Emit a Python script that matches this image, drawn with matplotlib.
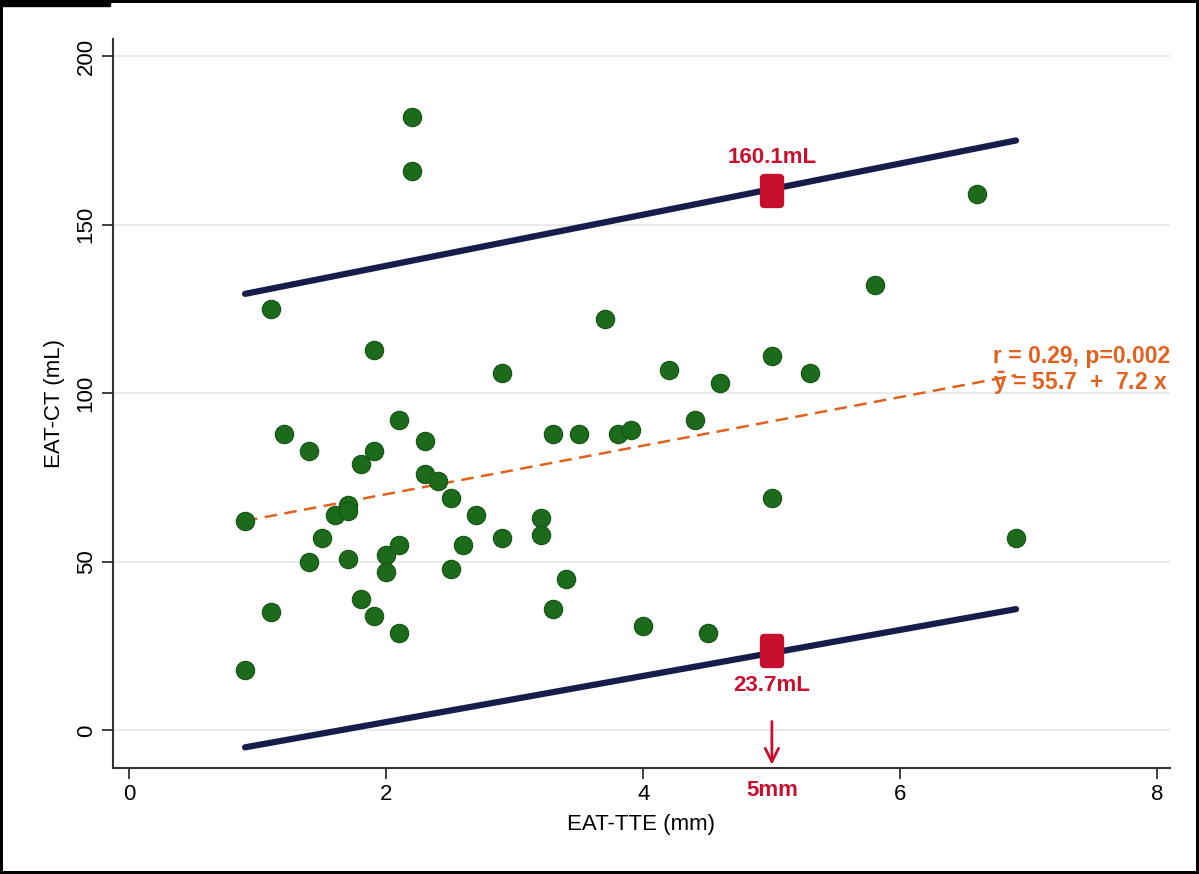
import numpy as np
import matplotlib.pyplot as plt
from matplotlib.patches import Rectangle
from matplotlib.markers import MarkerStyle
from matplotlib.path import Path

# data
tte = [0.9, 0.9, 1.1, 1.1, 1.2, 1.4, 1.4, 1.5, 1.6, 1.7, 1.7, 1.7, 1.8, 1.8,
       1.9, 1.9, 1.9, 2.0, 2.0, 2.1, 2.1, 2.1, 2.2, 2.2, 2.3, 2.3, 2.4, 2.5,
       2.5, 2.6, 2.7, 2.9, 2.9, 3.2, 3.2, 3.3, 3.3, 3.4, 3.5, 3.7, 3.8, 3.9,
       4.0, 4.2, 4.4, 4.5, 4.6, 5.0, 5.0, 5.3, 5.8, 6.6, 6.9]
ct = [18, 62, 35, 125, 88, 83, 50, 57, 64, 67, 65, 51, 39, 79,
      83, 113, 34, 52, 47, 92, 55, 29, 182, 166, 86, 76, 74, 69,
      48, 55, 64, 106, 57, 63, 58, 88, 36, 45, 88, 122, 88, 89,
      31, 107, 92, 29, 103, 111, 69, 106, 132, 159, 57]

fit_x = [0.9, 6.9]
intercept, slope = 55.7, 7.2
upper_y = [129.5, 175.0]
lower_y = [-5.0, 36.0]
cut_x = 5
cut_hi, cut_lo = 160.1, 23.7

plt.rcParams['font.family'] = ['Liberation Sans', 'DejaVu Sans']
plt.rcParams['mathtext.fontset'] = 'custom'
plt.rcParams['mathtext.bf'] = 'Liberation Sans:bold'
plt.rcParams['mathtext.rm'] = 'Liberation Sans'

navy = '#161d4a'
green = '#1b6b1b'
red = '#c8102e'
orange = '#e0621e'

fig = plt.figure(figsize=(11.99, 8.74), dpi=100)
fig.patch.set_edgecolor('black')
fig.patch.set_linewidth(3)
fig.patches.append(Rectangle((0, 1 - 6 / 874), 110 / 1199, 6 / 874,
                             transform=fig.transFigure, color='black', zorder=5))
ax = fig.add_axes([0.094, 0.121, 0.882, 0.834])

ax.plot(fit_x, upper_y, color=navy, lw=4.5, solid_capstyle='round', zorder=2)
ax.plot(fit_x, lower_y, color=navy, lw=4.5, solid_capstyle='round', zorder=2)

fx = np.array(fit_x)
ax.plot(fx, intercept + slope * fx, color=orange, lw=1.8, ls=(0, (5, 3)), zorder=3)

ax.scatter(tte, ct, s=175, color=green, edgecolor='#145214', lw=0.8, zorder=4)

box = Path([(-0.6, -1), (0.6, -1), (0.6, 1), (-0.6, 1), (-0.6, -1)],
           [Path.MOVETO, Path.LINETO, Path.LINETO, Path.LINETO, Path.CLOSEPOLY])
ax.plot([cut_x, cut_x], [cut_hi, cut_lo], ls='none',
        marker=MarkerStyle(box, joinstyle='round'), ms=19,
        color=red, mec=red, mew=6, zorder=5)

ax.text(cut_x, 170, f'{cut_hi}mL', color=red, fontsize=16,
        fontweight='bold', ha='center', va='center')
ax.text(cut_x, 13.3, f'{cut_lo}mL', color=red, fontsize=16,
        fontweight='bold', ha='center', va='center')
ax.annotate('', xy=(cut_x, -11), xytext=(cut_x, 3.5),
            arrowprops=dict(arrowstyle='->', color=red, lw=2, mutation_scale=24))
ax.text(cut_x, -17.8, f'{cut_x}mm', color=red, fontsize=16, fontweight='bold',
        ha='center', va='center')

ax.text(6.72, 110.8, 'r = 0.29, p=0.002', color=orange, fontsize=16.5,
        fontweight='bold', va='center')
ax.text(6.72, 103, r'$\mathbf{\bar{y}}$ = 55.7  +  7.2 x', color=orange,
        fontsize=16.5, fontweight='bold', va='center')

ax.set_xlim(-0.13, 8.1)
ax.set_ylim(-11.2, 205)
ax.set_xticks([0, 2, 4, 6, 8])
ax.set_yticks([0, 50, 100, 150, 200])
ax.grid(axis='y', color='#e6e6e6', lw=1.2)
ax.set_axisbelow(True)
for s in ['top', 'right']:
    ax.spines[s].set_visible(False)
for s in ['left', 'bottom']:
    ax.spines[s].set_linewidth(1.5)
    ax.spines[s].set_color('#333333')
ax.tick_params(length=8, width=1.3, labelsize=16, color='#333333')
plt.setp(ax.get_yticklabels(), rotation=90, va='center')
ax.set_xlabel('EAT-TTE (mm)', fontsize=16, labelpad=6)
ax.set_ylabel('EAT-CT (mL)', fontsize=16, labelpad=8)

fig.savefig('out.png', dpi=100, edgecolor=fig.get_edgecolor())
